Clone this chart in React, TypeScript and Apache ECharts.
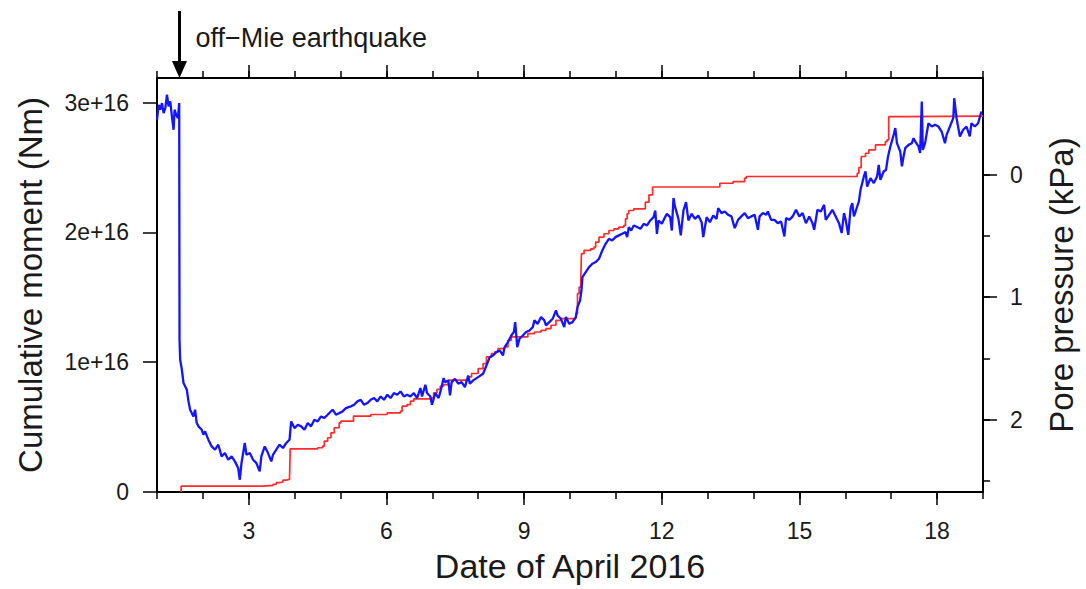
import React, { useEffect, useRef } from "react";
import * as echarts from "echarts";

// Day of the off-Mie earthquake (April 2016)
const EQ_DAY = 1.49;
const EQ_LABEL = "off\u2212Mie earthquake";

const X_LABELS = [3, 6, 9, 12, 15, 18];
const MOMENT_TICKS = [0, 1, 2, 3]; // units of 1e16 Nm
const PRESSURE_MINOR = [0, 0.5, 1, 1.5, 2, 2.5];
const PRESSURE_LABELS = [0, 1, 2];

// Pore pressure (kPa), blue
const blueDays = [
  1.0, 1.036, 1.072, 1.108, 1.144, 1.181, 1.217, 1.253, 1.289, 1.325,
  1.361, 1.383, 1.419, 1.455, 1.484, 1.491, 1.505, 1.542, 1.578, 1.65,
  1.686, 1.722, 1.794, 1.83, 1.866, 1.903, 1.975, 2.011, 2.047, 2.119,
  2.191, 2.264, 2.336, 2.408, 2.48, 2.552, 2.625, 2.697, 2.769, 2.805,
  2.841, 2.913, 2.949, 3.022, 3.094, 3.166, 3.238, 3.274, 3.347, 3.419,
  3.491, 3.527, 3.599, 3.671, 3.744, 3.816, 3.888, 3.924, 3.996, 4.069,
  4.141, 4.213, 4.285, 4.357, 4.43, 4.502, 4.574, 4.646, 4.718, 4.827,
  4.899, 4.971, 5.043, 5.116, 5.224, 5.296, 5.368, 5.44, 5.513, 5.585,
  5.657, 5.729, 5.801, 5.874, 5.946, 6.018, 6.09, 6.162, 6.235, 6.307,
  6.379, 6.451, 6.523, 6.596, 6.668, 6.74, 6.776, 6.848, 6.884, 6.957,
  6.993, 7.065, 7.137, 7.188, 7.245,
  7.277, 7.349, 7.385, 7.421, 7.493, 7.565, 7.638, 7.71, 7.782, 7.818,
  7.89, 7.998, 8.106, 8.179, 8.251, 8.323, 8.395, 8.467, 8.539, 8.575,
  8.648, 8.72, 8.777, 8.806, 8.85, 8.9, 8.972, 9.044, 9.117, 9.189,
  9.225, 9.297, 9.369, 9.441, 9.477, 9.549, 9.622, 9.694, 9.73, 9.802,
  9.874, 9.91, 9.982, 10.055, 10.127, 10.163, 10.22, 10.249, 10.271, 10.343,
  10.415, 10.487, 10.56, 10.632, 10.704, 10.776, 10.848, 10.92, 10.992, 11.065,
  11.137, 11.209, 11.245, 11.281, 11.332, 11.389, 11.461, 11.534, 11.606, 11.678,
  11.75, 11.822, 11.858, 11.894, 11.93, 12.003, 12.053, 12.111, 12.183, 12.219,
  12.255, 12.291, 12.363, 12.414, 12.472, 12.529, 12.58, 12.652, 12.724, 12.796,
  12.868, 12.904, 12.977, 13.049, 13.121, 13.193,
  13.229, 13.301, 13.373, 13.445, 13.518, 13.59, 13.662, 13.734, 13.806, 13.878,
  13.95, 14.023, 14.095, 14.131, 14.203, 14.275, 14.311, 14.383, 14.456, 14.528,
  14.6, 14.672, 14.708, 14.78, 14.852, 14.925, 14.997, 15.069, 15.141, 15.213,
  15.285, 15.321, 15.393, 15.466, 15.538, 15.574, 15.646, 15.718, 15.79, 15.862,
  15.92, 15.971, 16.007, 16.064, 16.115, 16.151, 16.187, 16.223, 16.295, 16.331,
  16.404, 16.44, 16.476, 16.548, 16.62, 16.692, 16.728, 16.764, 16.836, 16.887,
  16.93, 16.981, 17.053, 17.089, 17.125, 17.197, 17.233, 17.269, 17.305, 17.378,
  17.45, 17.486, 17.522, 17.594, 17.63, 17.666, 17.688, 17.738, 17.811, 17.883,
  17.955, 18.027, 18.099, 18.171, 18.207, 18.279, 18.352, 18.373, 18.424, 18.496,
  18.568, 18.64, 18.712, 18.748, 18.821, 18.893, 18.965,
];
const bluePressure = [
  -0.449, -0.571, -0.531, -0.585, -0.503, -0.544, -0.653, -0.558, -0.599, -0.476,
  -0.367, -0.531, -0.49, -0.462, -0.585, 1.347, 1.51, 1.592, 1.701, 1.755,
  1.85, 1.918, 1.973, 1.918, 2.027, 2.054, 2.082, 2.122, 2.095, 2.163,
  2.218, 2.245, 2.204, 2.299, 2.272, 2.327, 2.299, 2.34, 2.395, 2.49,
  2.354, 2.19, 2.286, 2.272, 2.327, 2.354, 2.422, 2.299, 2.218, 2.272,
  2.34, 2.286, 2.245, 2.204, 2.231, 2.19, 2.163, 2.014, 2.068, 2.041,
  2.054, 2.082, 2.027, 2.054, 2.0, 2.014, 1.973, 1.986, 1.959, 1.918,
  1.959, 1.946, 1.932, 1.905, 1.891, 1.878, 1.85, 1.837, 1.878, 1.864,
  1.837, 1.823, 1.85, 1.81, 1.837, 1.796, 1.823, 1.782, 1.796, 1.769,
  1.81, 1.796, 1.81, 1.782, 1.823, 1.741, 1.81, 1.714, 1.782, 1.81,
  1.878, 1.782, 1.823, 1.755, 1.66,
  1.693, 1.679, 1.802, 1.693, 1.666, 1.706, 1.693, 1.734, 1.639, 1.706,
  1.679, 1.652, 1.625, 1.557, 1.489, 1.475, 1.448, 1.434, 1.475, 1.407,
  1.366, 1.312, 1.284, 1.203, 1.407, 1.339, 1.312, 1.284, 1.271, 1.244,
  1.189, 1.217, 1.162, 1.189, 1.23, 1.203, 1.176, 1.108, 1.149, 1.176,
  1.244, 1.162, 1.217, 1.203, 1.162, 1.081, 1.026, 0.945, 0.836, 0.795,
  0.754, 0.727, 0.713, 0.686, 0.618, 0.564, 0.523, 0.536, 0.509, 0.495,
  0.482, 0.468, 0.509, 0.427, 0.455, 0.414, 0.427, 0.441, 0.4, 0.414,
  0.373, 0.346, 0.292, 0.482, 0.373, 0.4, 0.36, 0.319, 0.346, 0.455,
  0.19, 0.264, 0.36, 0.495, 0.292, 0.223, 0.373, 0.319, 0.36, 0.332,
  0.387, 0.509, 0.346, 0.387, 0.332, 0.36,
  0.272, 0.313, 0.3, 0.327, 0.34, 0.436, 0.368, 0.34, 0.313, 0.354,
  0.34, 0.327, 0.449, 0.34, 0.313, 0.327, 0.3, 0.368, 0.368, 0.395,
  0.381, 0.504, 0.354, 0.368, 0.34, 0.286, 0.34, 0.313, 0.395, 0.34,
  0.395, 0.449, 0.286, 0.3, 0.245, 0.368, 0.327, 0.286, 0.34, 0.395,
  0.476, 0.313, 0.368, 0.49, 0.272, 0.231, 0.34, 0.3, 0.218, 0.123,
  0.014, -0.027, 0.096, 0.027, 0.068, 0.014, -0.081, 0.041, -0.027, -0.041,
  -0.149, -0.231, -0.326, -0.381, -0.258, -0.19, -0.068, -0.149, -0.217, -0.244,
  -0.258, -0.299, -0.272, -0.231, -0.177, -0.598, -0.204, -0.258, -0.421, -0.394,
  -0.408, -0.394, -0.353, -0.258, -0.326, -0.394, -0.462, -0.625, -0.462, -0.313,
  -0.367, -0.394, -0.313, -0.421, -0.394, -0.421, -0.517,
];

// Cumulative moment (1e16 Nm), red step line
const redDays = [
  1.527, 1.527, 3.31, 3.527, 3.599, 3.671, 3.744, 3.816, 3.888, 3.903,
  4.502, 4.61, 4.646, 4.718, 4.791, 4.863, 4.971, 5.007, 5.282, 5.657,
  6.018, 6.307, 6.343, 6.451, 6.523, 6.596, 6.957, 7.029, 7.101, 7.173,
  7.245, 7.349, 7.782, 7.854, 7.998, 8.106, 8.179, 8.287, 8.359, 8.431,
  8.575, 8.648, 8.72, 9.081, 9.225, 9.369, 9.477, 9.586, 9.694, 9.802,
  10.127, 10.163, 10.199, 10.235, 10.249, 10.307, 10.451, 10.524, 10.56, 10.632,
  10.74, 10.848, 10.957, 11.065, 11.173, 11.209, 11.245, 11.281, 11.389, 11.642,
  11.72, 11.8, 13.265, 13.554, 13.806, 13.842, 16.259, 16.295, 16.346, 16.44,
  16.512, 16.656, 16.873, 16.909, 16.945, 17.305, 19.0,
];
const redMoment = [
  0, 0.046, 0.051, 0.059, 0.072, 0.077, 0.092, 0.097, 0.11, 0.333,
  0.341, 0.354, 0.392, 0.418, 0.456, 0.495, 0.533, 0.546, 0.585, 0.597,
  0.61, 0.623, 0.662, 0.674, 0.7, 0.718, 0.726, 0.764, 0.79, 0.815,
  0.828, 0.862, 0.887, 0.913, 0.951, 0.99, 1.041, 1.067, 1.079, 1.105,
  1.118, 1.169, 1.195, 1.221, 1.233, 1.246, 1.259, 1.285, 1.323, 1.336,
  1.374, 1.528, 1.579, 1.631, 1.836, 1.862, 1.874, 1.887, 1.926, 1.964,
  1.99, 2.015, 2.028, 2.041, 2.054, 2.105, 2.144, 2.169, 2.182, 2.233,
  2.29, 2.35, 2.379, 2.392, 2.418, 2.431, 2.456, 2.5, 2.585, 2.61,
  2.636, 2.674, 2.7, 2.713, 2.892, 2.897, 2.897,
];

export default function App() {
  const ref = useRef<HTMLDivElement>(null);

  useEffect(() => {
    if (!ref.current) return;
    const chart = echarts.init(ref.current, null, { renderer: "svg" });
    const font = "'Liberation Sans', Arial, Helvetica, sans-serif";
    const textColor = "#1a1a1a";
    const axisLine = { show: true, onZero: false, lineStyle: { color: "#000", width: 2 } };
    const noLine = { show: false, onZero: false };
    const tickStyle = { color: "#000", width: 1.5 };
    const xBase = { type: "value", min: 1, max: 19, splitLine: { show: false } };
    const leftBase = { type: "value", min: 0, max: 3.19, splitLine: { show: false } };
    const rightBase = {
      type: "value",
      min: -0.79,
      max: 2.59,
      inverse: true,
      splitLine: { show: false },
    };

    chart.setOption({
      animation: false,
      backgroundColor: "#fff",
      textStyle: { fontFamily: font },
      grid: { left: 157, right: 98, top: 78, bottom: 97, containLabel: false },
      xAxis: [
        {
          ...xBase,
          position: "bottom",
          interval: 1,
          axisLine,
          axisTick: { show: true, inside: false, length: 7, lineStyle: tickStyle },
          axisLabel: {
            show: true,
            customValues: X_LABELS,
            fontSize: 23,
            color: textColor,
            margin: 27,
            fontFamily: font,
          },
          name: "Date of April 2016",
          nameLocation: "middle",
          nameGap: 57,
          nameTextStyle: { fontSize: 34, color: textColor, fontFamily: font },
        },
        {
          ...xBase,
          position: "bottom",
          axisLine: noLine,
          axisTick: { show: true, customValues: X_LABELS, length: 13, lineStyle: tickStyle },
          axisLabel: { show: false },
        },
        {
          ...xBase,
          position: "top",
          interval: 1,
          axisLine,
          axisTick: { show: true, length: 7, lineStyle: tickStyle },
          axisLabel: { show: false },
        },
        {
          ...xBase,
          position: "top",
          axisLine: noLine,
          axisTick: { show: true, customValues: X_LABELS, length: 13, lineStyle: tickStyle },
          axisLabel: { show: false },
        },
      ],
      yAxis: [
        {
          ...leftBase,
          position: "left",
          axisLine,
          axisTick: { show: true, customValues: MOMENT_TICKS, length: 14, lineStyle: tickStyle },
          axisLabel: {
            show: true,
            customValues: MOMENT_TICKS,
            formatter: (v: number) => (v === 0 ? "0" : `${v}e+16`),
            fontSize: 23,
            color: textColor,
            margin: 28,
            fontFamily: font,
          },
          name: "Cumulative moment (Nm)",
          nameLocation: "middle",
          nameGap: 110,
          nameTextStyle: { fontSize: 33, color: textColor, fontFamily: font },
        },
        {
          ...rightBase,
          position: "right",
          axisLine,
          axisTick: { show: true, customValues: PRESSURE_MINOR, length: 7, lineStyle: tickStyle },
          axisLabel: { show: false },
        },
        {
          ...rightBase,
          position: "right",
          axisLine: noLine,
          axisTick: { show: true, customValues: PRESSURE_LABELS, length: 14, lineStyle: tickStyle },
          axisLabel: {
            show: true,
            customValues: PRESSURE_LABELS,
            fontSize: 23,
            color: textColor,
            margin: 27,
            fontFamily: font,
          },
          name: "Pore pressure (kPa)",
          nameLocation: "middle",
          nameGap: 62,
          nameTextStyle: { fontSize: 33, color: textColor, fontFamily: font },
        },
      ],
      series: [
        {
          name: "Cumulative moment",
          type: "line",
          xAxisIndex: 0,
          yAxisIndex: 0,
          step: "end",
          symbol: "none",
          data: redDays.map((d, i) => [d, redMoment[i]]),
          lineStyle: { color: "#ff2a2a", width: 1.7 },
          z: 2,
        },
        {
          name: "Pore pressure",
          type: "line",
          xAxisIndex: 0,
          yAxisIndex: 1,
          symbol: "none",
          data: blueDays.map((d, i) => [d, bluePressure[i]]),
          lineStyle: { color: "#1414ff", width: 2.3 },
          z: 3,
        },
      ],
    });

    const ax = chart.convertToPixel({ xAxisIndex: 0 }, EQ_DAY) as number;
    chart.setOption({
      graphic: [
        {
          type: "line",
          shape: { x1: ax, y1: 11, x2: ax, y2: 64 },
          style: { stroke: "#000", lineWidth: 3 },
        },
        {
          type: "polygon",
          shape: { points: [[ax - 7.5, 61], [ax + 7.5, 61], [ax, 78]] },
          style: { fill: "#000" },
        },
        {
          type: "text",
          x: ax + 16,
          y: 38,
          style: {
            text: EQ_LABEL,
            fontSize: 27,
            fontFamily: font,
            fill: textColor,
            align: "left",
            verticalAlign: "middle",
          },
        },
      ],
    });

    return () => chart.dispose();
  }, []);

  return (
    <div
      ref={ref}
      style={{ position: "absolute", left: 0, top: 0, width: 1086, height: 589 }}
    />
  );
}
